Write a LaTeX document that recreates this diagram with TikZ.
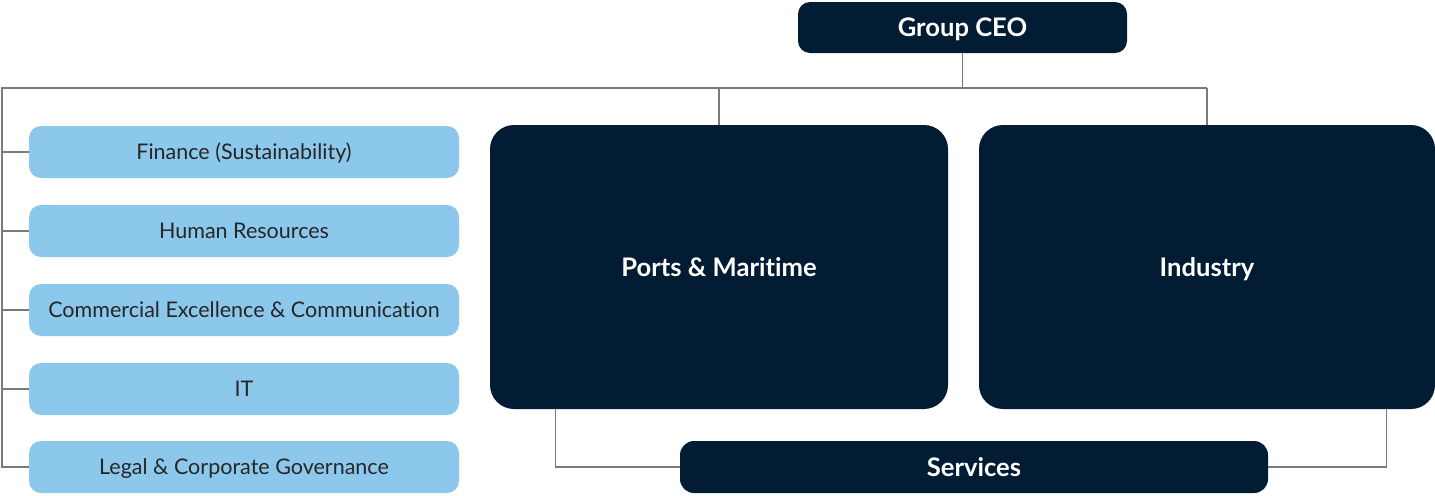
\documentclass[tikz,border=0pt]{standalone}
\usepackage{fontspec}
\setmainfont{Lato}[Ligatures=NoCommon]
\usetikzlibrary{calc}

\definecolor{navy}{HTML}{021C33}
\definecolor{skyblue}{HTML}{8CC8EC}
\definecolor{wire}{HTML}{7A7A7A}
\newcommand{\pxu}{0.025cm}

\tikzset{
    unit/.style={fill=skyblue, rounded corners=12*\pxu, minimum width=430*\pxu, minimum height=52*\pxu,
        text=black!85, font=\fontsize{15.3}{17}\selectfont, text height=11pt, text depth=0pt},
    head/.style={fill=navy, text=white, font=\bfseries\fontsize{18.2}{20}\selectfont,
        text height=13.1pt, text depth=0pt},
    link/.style={draw=wire, line width=0.75pt},
}

\begin{document}
\begin{tikzpicture}[x=\pxu, y=-\pxu]
    \useasboundingbox (0,0) rectangle (1435,495);
    \node[head, rounded corners=12*\pxu, minimum width=329*\pxu, minimum height=51*\pxu] at (962.5, 27.5)(ceo){Group CEO};
    \node[head, rounded corners=24*\pxu, minimum width=458*\pxu, minimum height=284*\pxu] at (719, 267)(ports){Ports \& Maritime};
    \node[head, rounded corners=24*\pxu, minimum width=456*\pxu, minimum height=284*\pxu] at (1207, 267)(ind){Industry};
    \node[head, rounded corners=14*\pxu, minimum width=588*\pxu, minimum height=52*\pxu] at (974, 467)(serv){Services};
    \node[unit] at (244, 152)(fin){Finance (Sustainability)};
    \node[unit] at (244, 231)(hr){Human Resources};
    \node[unit] at (244, 310)(com){Commercial Excellence \& Communication};
    \node[unit] at (244, 389)(it){IT};
    \node[unit] at (244, 467)(legal){Legal \& Corporate Governance};
    \coordinate (bus) at (2, 88);

    \path[link]
        (ceo.south) |- (bus) |- (legal.west)
        (bus) -- (bus -| ind.north)
        (bus -| ports.north) -- (ports.north)
        (bus -| ind.north) -- (ind.north)
        ($(ports.south west)+(66,0)$) |- (serv.west)
        ($(ind.south east)+(-49,0)$) |- (serv.east)
        ;
    \foreach \u in {fin, hr, com, it}
        \draw[link] (bus |- \u.west) -- (\u.west);
\end{tikzpicture}
\end{document}
